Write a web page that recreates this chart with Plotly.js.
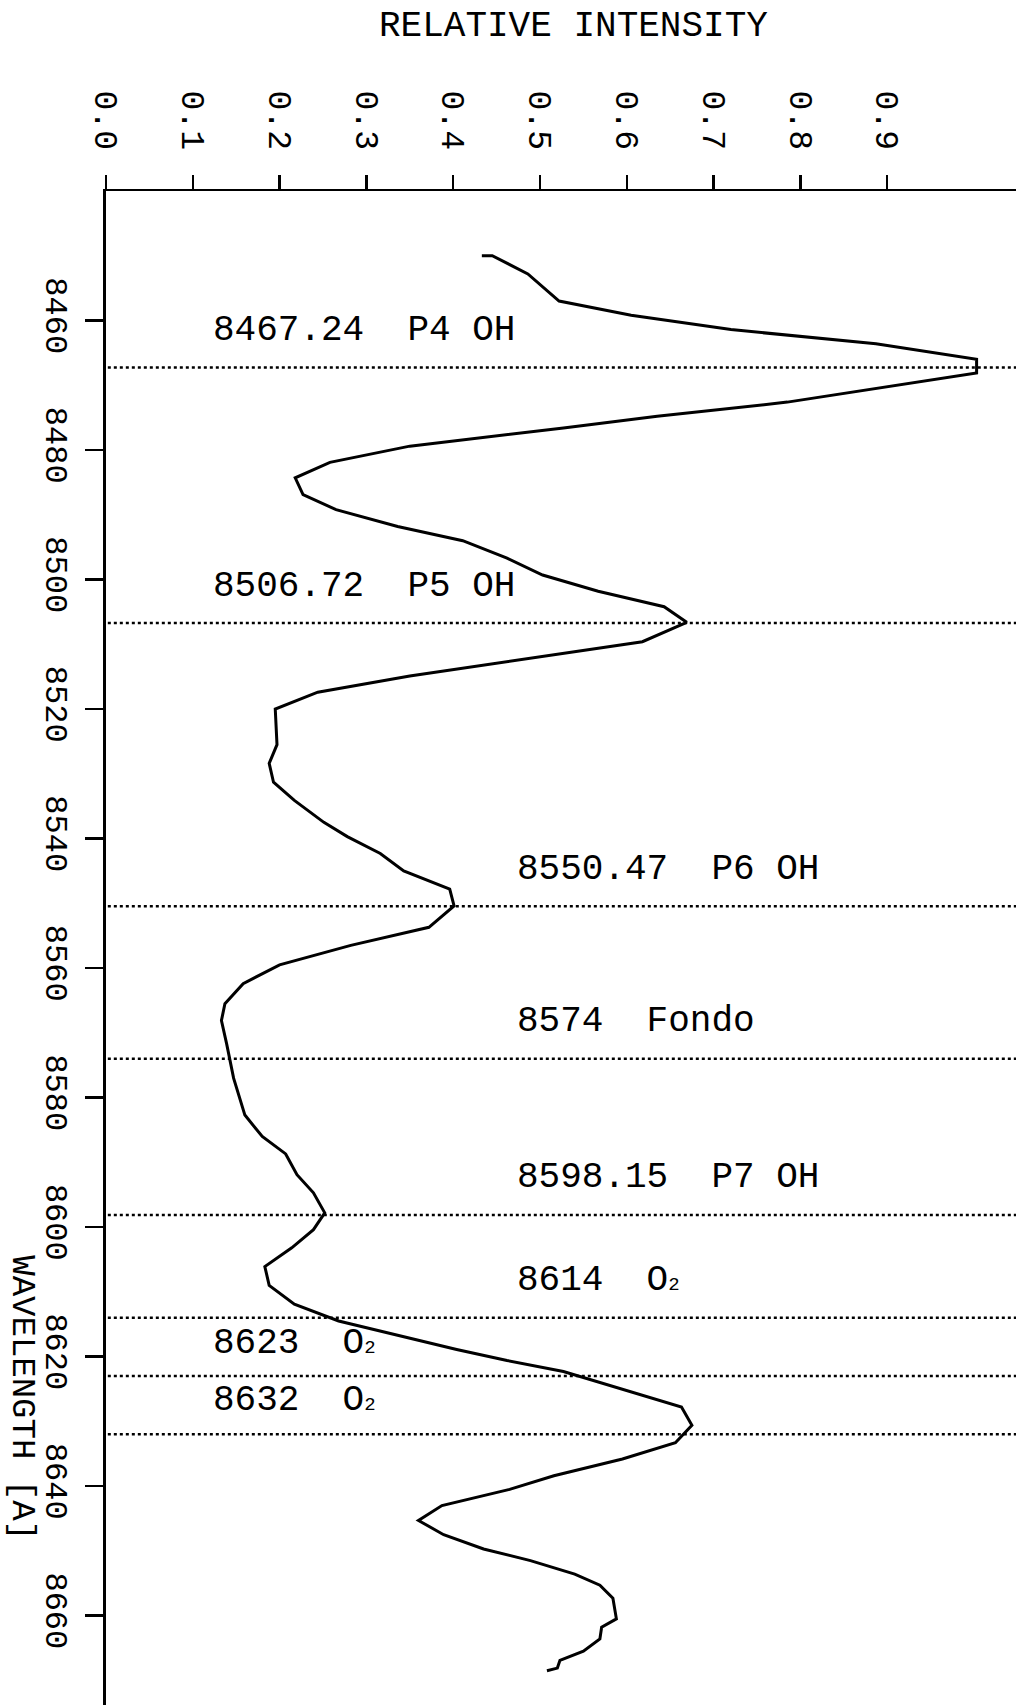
<!DOCTYPE html>
<html>
<head>
<meta charset="utf-8">
<script src="https://cdn.plot.ly/plotly-3.0.1.min.js"></script>
<style>
  html, body { margin: 0; padding: 0; background: #ffffff; }
  #chart { width: 1016px; height: 1705px; }
</style>
</head>
<body>
<div id="chart"></div>
<script>
// ---- data ----
var wavelength = [
  8450.0, 8450.0, 8452.8, 8455.2, 8457.0, 8459.2, 8461.4, 8463.6, 8466.0, 8468.1,
  8470.4, 8472.6, 8474.8, 8476.6, 8479.4, 8481.9, 8484.3, 8486.9, 8489.2, 8491.8,
  8494.0, 8496.7, 8499.3, 8501.8, 8504.2, 8506.6, 8509.6, 8514.9, 8517.4, 8520.0,
  8525.5, 8528.4, 8531.3, 8534.1, 8537.5, 8539.7, 8542.3, 8545.0, 8547.8, 8550.4,
  8553.7, 8556.5, 8559.5, 8562.4, 8565.5, 8568.1, 8571.7, 8577.0, 8582.7, 8586.0,
  8588.7, 8591.9, 8594.7, 8597.8, 8600.4, 8603.2, 8606.1, 8609.0, 8611.9, 8614.5,
  8618.9, 8620.6, 8622.3, 8625.4, 8627.8, 8630.6, 8633.3, 8635.8, 8638.4, 8640.5,
  8643.0, 8645.3, 8647.5, 8649.7, 8651.5, 8653.6, 8655.3, 8657.3, 8660.5, 8661.8,
  8663.6, 8665.5, 8666.9, 8668.1, 8668.5
];
var intensity = [
  0.433, 0.445, 0.486, 0.506, 0.522, 0.605, 0.720, 0.887, 1.003, 1.003,
  0.894, 0.785, 0.635, 0.527, 0.350, 0.258, 0.218, 0.227, 0.265, 0.336,
  0.411, 0.462, 0.503, 0.567, 0.643, 0.669, 0.618, 0.350, 0.244, 0.195,
  0.197, 0.188, 0.193, 0.217, 0.251, 0.278, 0.316, 0.343, 0.396, 0.401,
  0.372, 0.282, 0.200, 0.158, 0.137, 0.133, 0.139, 0.147, 0.160, 0.180,
  0.207, 0.220, 0.239, 0.252, 0.239, 0.214, 0.183, 0.188, 0.217, 0.268,
  0.404, 0.462, 0.527, 0.605, 0.663, 0.675, 0.656, 0.595, 0.516, 0.465,
  0.387, 0.360, 0.389, 0.435, 0.489, 0.540, 0.569, 0.584, 0.588, 0.571,
  0.569, 0.550, 0.523, 0.520, 0.508
];

// marked lines
var lineWavelengths = [8467.24, 8506.72, 8550.47, 8574, 8598.15, 8614, 8623, 8632];
var lineNumbers = ["8467.24", "8506.72", "8550.47", "8574", "8598.15", "8614", "8623", "8632"];
var lineNames = ["P4 OH", "P5 OH", "P6 OH", "Fondo", "P7 OH", "O2", "O2", "O2"];

// tick labels
var intensityTicks = [0.0, 0.1, 0.2, 0.3, 0.4, 0.5, 0.6, 0.7, 0.8, 0.9];
var intensityTickText = ["0.0", "0.1", "0.2", "0.3", "0.4", "0.5", "0.6", "0.7", "0.8", "0.9"];
var wavelengthTicks = [8460, 8480, 8500, 8520, 8540, 8560, 8580, 8600, 8620, 8640, 8660];
var wavelengthTickText = ["8460", "8480", "8500", "8520", "8540", "8560", "8580", "8600", "8620", "8640", "8660"];

// ---- presentation ----
var FONT = "Liberation Mono, DejaVu Sans Mono, monospace";
var NB = "\u00a0";
var L = 106; // left margin (px)

function nameMarkup(n) {
  if (n === "O2") return "O<span style=\"font-size:19px\">2</span>";
  return n.replace(/ /g, NB);
}

var labelColumn = ["left", "left", "right", "right", "right", "right", "left", "left"];
var labelLift = [37, 37, 37, 37, 38, 37, 33, 34];

var shapes = lineWavelengths.map(function (w) {
  return {
    type: "line", xref: "paper", yref: "y",
    x0: 0.002, x1: 1, y0: w, y1: w,
    line: { color: "#000", width: 2.5, dash: "3px,3px" }
  };
});

var annotations = lineWavelengths.map(function (w, i) {
  return {
    xref: "paper", yref: "y",
    x: labelColumn[i] === "left" ? (211 - L) / (1016 - L) : (515 - L) / (1016 - L),
    y: w, yshift: labelLift[i],
    xanchor: "left", yanchor: "middle",
    showarrow: false,
    text: lineNumbers[i] + NB + NB + nameMarkup(lineNames[i]),
    font: { family: FONT, size: 36, color: "#000" }
  };
});

annotations.push({
  xref: "paper", yref: "paper",
  x: (573.6 - L) / (1016 - L), y: 1 + (191 - 27) / 1514,
  xanchor: "center", yanchor: "middle", showarrow: false,
  text: "RELATIVE" + NB + "INTENSITY",
  font: { family: FONT, size: 36, color: "#000" }
});
annotations.push({
  xref: "paper", yref: "paper",
  x: (21.7 - L) / (1016 - L), y: 1 - (1398 - 191) / 1514,
  xanchor: "center", yanchor: "middle", showarrow: false,
  textangle: 90,
  text: "WAVELENGTH" + NB + "[A]",
  font: { family: FONT, size: 34, color: "#000" }
});

var trace = {
  type: "scatter", mode: "lines",
  x: intensity, y: wavelength,
  line: { color: "#000", width: 3 },
  hoverinfo: "skip", showlegend: false
};

var layout = {
  width: 1016, height: 1705,
  margin: { l: L, r: 0, t: 191, b: 0, pad: 0 },
  paper_bgcolor: "#ffffff", plot_bgcolor: "#ffffff",
  showlegend: false,
  xaxis: {
    side: "top", range: [0, (1016 - L) / 868],
    tickmode: "array", tickvals: intensityTicks, ticktext: intensityTickText,
    tickangle: 90, ticks: "outside", ticklen: 14, tickwidth: 2.5, tickcolor: "#000",
    ticklabelstandoff: 13,
    showline: true, linewidth: 2.5, linecolor: "#000",
    showgrid: false, zeroline: false,
    tickfont: { family: FONT, size: 33, color: "#000" }
  },
  yaxis: {
    range: [8673.8, 8440],
    tickmode: "array", tickvals: wavelengthTicks, ticktext: wavelengthTickText,
    tickangle: 90, ticks: "outside", ticklen: 18, tickwidth: 2.5, tickcolor: "#000",
    ticklabelstandoff: 1,
    showline: true, linewidth: 3, linecolor: "#000",
    showgrid: false, zeroline: false,
    tickfont: { family: FONT, size: 32, color: "#000" }
  },
  shapes: shapes,
  annotations: annotations
};

Plotly.newPlot("chart", [trace], layout, { staticPlot: true, displayModeBar: false });
</script>
</body>
</html>
